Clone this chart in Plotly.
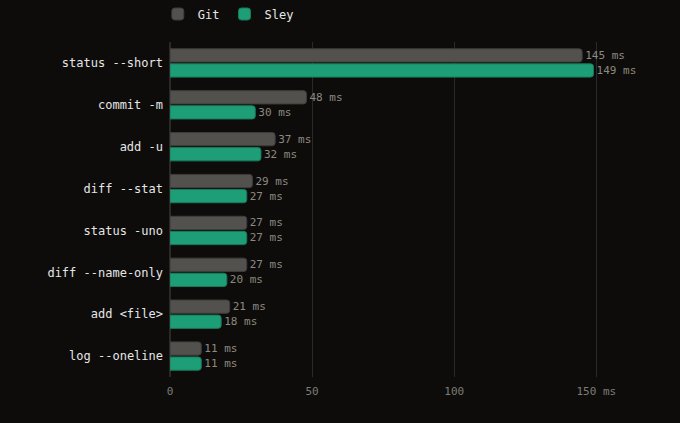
import plotly.graph_objects as go

# Benchmark data (ms)
commands = ["status --short", "commit -m", "add -u", "diff --stat",
            "status -uno", "diff --name-only", "add <file>", "log --oneline"]
git_ms = [145, 48, 37, 29, 27, 27, 21, 11]
sley_ms = [149, 30, 32, 27, 27, 20, 18, 11]

x_ticks = [0, 50, 100, 150]
x_tick_text = ["0", "50", "100", "150 ms"]

mono = "DejaVu Sans Mono"
bg = "#0d0c0b"

fig = go.Figure()
fig.add_trace(go.Bar(
    y=commands, x=git_ms, name="Git", orientation="h",
    marker=dict(color="#53514e", line=dict(color="#3e3d3a", width=1), cornerradius=3),
    text=[f"{v} ms" for v in git_ms], textposition="outside",
    textfont=dict(color="#8c8a82", size=11, family=mono),
    cliponaxis=False,
))
fig.add_trace(go.Bar(
    y=commands, x=sley_ms, name="Sley", orientation="h",
    marker=dict(color="#1e9e76", line=dict(color="#177a5b", width=1), cornerradius=3),
    text=[f"{v} ms" for v in sley_ms], textposition="outside",
    textfont=dict(color="#8c8a7c", size=11, family=mono),
    cliponaxis=False,
))

fig.update_layout(
    width=680, height=423,
    paper_bgcolor=bg, plot_bgcolor=bg,
    margin=dict(l=170, r=41, t=42, b=46, autoexpand=False),
    barmode="group", bargap=0.28, bargroupgap=0.12,
    font=dict(family=mono, color="#e6e6e6", size=12),
    showlegend=True,
    legend=dict(orientation="h", x=-0.026, xanchor="left",
                yref="container", y=1 - 14 / 423, yanchor="middle",
                font=dict(size=12, color="#e6e6e6"), traceorder="normal",
                itemwidth=30),
    xaxis=dict(range=[0, 165], tickvals=x_ticks, ticktext=x_tick_text,
               showgrid=True, gridcolor="#2a2927", gridwidth=1,
               zeroline=True, zerolinecolor="#2a2927",
               tickfont=dict(color="#7d7c78", size=11), showline=False,
               ticklabelstandoff=6),
    yaxis=dict(autorange="reversed", tickfont=dict(color="#e6e6e6", size=12),
               ticks="", showgrid=False, ticklabelstandoff=6),
)

# drop the default page margin so the figure fills the window
fig.write_html("out.html", config={"displayModeBar": False},
               post_script=f"document.body.style.margin='0';"
                           f"document.body.style.background='{bg}';")
